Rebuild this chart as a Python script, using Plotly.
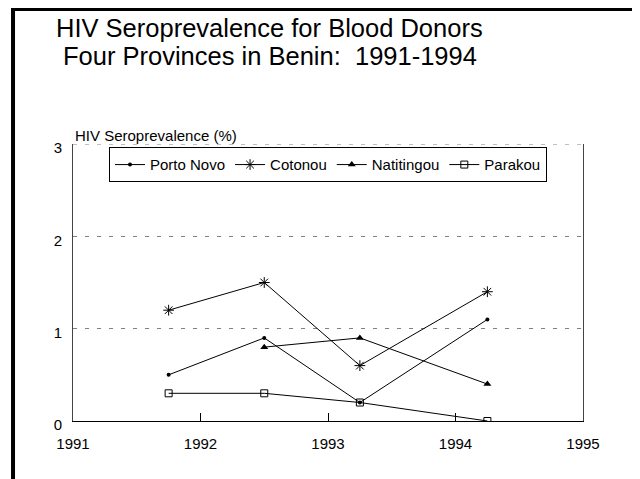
import plotly.graph_objects as go

# survey points (mid-year positions, as plotted in the original slide)
years_4 = [1991.75, 1992.5, 1993.25, 1994.25]
years_3 = [1992.5, 1993.25, 1994.25]

porto_novo = [0.5, 0.9, 0.2, 1.1]
cotonou = [1.2, 1.5, 0.6, 1.4]
natitingou = [0.8, 0.9, 0.4]
parakou = [0.3, 0.3, 0.2, 0.0]

x_ticks = [1991, 1992, 1993, 1994, 1995]
y_ticks = [0, 1, 2, 3]

FONT = 'Liberation Sans, Arial, sans-serif'

fig = go.Figure()

fig.add_trace(go.Scatter(x=years_4, y=porto_novo, name='Porto Novo', mode='lines+markers',
	line=dict(color='black', width=1),
	marker=dict(symbol='circle', size=4, color='black')))

fig.add_trace(go.Scatter(x=years_4, y=cotonou, name='Cotonou', mode='lines+markers',
	line=dict(color='black', width=1),
	marker=dict(symbol='asterisk-open', size=9, color='black', line=dict(color='black', width=1))))

fig.add_trace(go.Scatter(x=years_3, y=natitingou, name='Natitingou', mode='lines+markers',
	line=dict(color='black', width=1),
	marker=dict(symbol='triangle-up', size=7, color='black')))

fig.add_trace(go.Scatter(x=years_4, y=parakou, name='Parakou', mode='lines+markers',
	line=dict(color='black', width=1),
	marker=dict(symbol='square-open', size=7, color='black', line=dict(color='black', width=1))))

# the page body adds ~8px on the left and top, so margins are trimmed for that
fig.update_layout(
	width=640, height=479,
	margin=dict(l=65, r=65, t=136, b=66),
	paper_bgcolor='white', plot_bgcolor='white',
	font=dict(family=FONT, size=15, color='black'),
	showlegend=True,
	legend=dict(orientation='h', x=0.5, xanchor='center', y=0.988, yanchor='top',
		bgcolor='white', bordercolor='black', borderwidth=1,
		font=dict(size=15), itemwidth=30, tracegroupgap=0),
)

fig.update_xaxes(range=[1991, 1995], tickvals=x_ticks, ticktext=[str(v) for v in x_ticks],
	showgrid=False, zeroline=False, showline=True, linecolor='black', linewidth=1,
	ticks='inside', ticklen=8, tickcolor='black', tickfont=dict(size=15),
	ticklabelstandoff=9)

fig.update_yaxes(range=[0, 3], tickvals=y_ticks, showgrid=True, gridcolor='#808080',
	griddash='4px,8px', gridwidth=1, zeroline=False, showline=True, mirror=True,
	linecolor='#444', linewidth=1, ticks='', tickfont=dict(size=15),
	ticklabelstandoff=7, ticklabelshift=4)

# plotly skips the grid line on the top edge, so draw it the same way
fig.add_hline(y=y_ticks[-1], line=dict(color='#808080', width=1, dash='4px,8px'), layer='below')

# slide title
fig.add_annotation(text='HIV Seroprevalence for Blood Donors', xref='paper', yref='paper',
	x=0.386, y=1.419, xanchor='center', yanchor='middle', showarrow=False,
	font=dict(size=25.5, family=FONT))
fig.add_annotation(text='Four Provinces in Benin:  1991-1994', xref='paper', yref='paper',
	x=0.386, y=1.316, xanchor='center', yanchor='middle', showarrow=False,
	font=dict(size=25.5, family=FONT))

# axis title, written horizontally above the axis
fig.add_annotation(text='HIV Seroprevalence (%)', xref='paper', yref='paper',
	x=0, y=1.032, xanchor='left', yanchor='middle', showarrow=False,
	font=dict(size=15, family=FONT))

# slide frame (runs off the right and bottom edges)
fig.add_shape(type='rect', xref='paper', yref='paper', x0=-0.1176, y0=-0.4, x1=1.3, y1=1.487,
	line=dict(color='black', width=4), fillcolor='rgba(0,0,0,0)', layer='above')

fig.write_html('out.html')
